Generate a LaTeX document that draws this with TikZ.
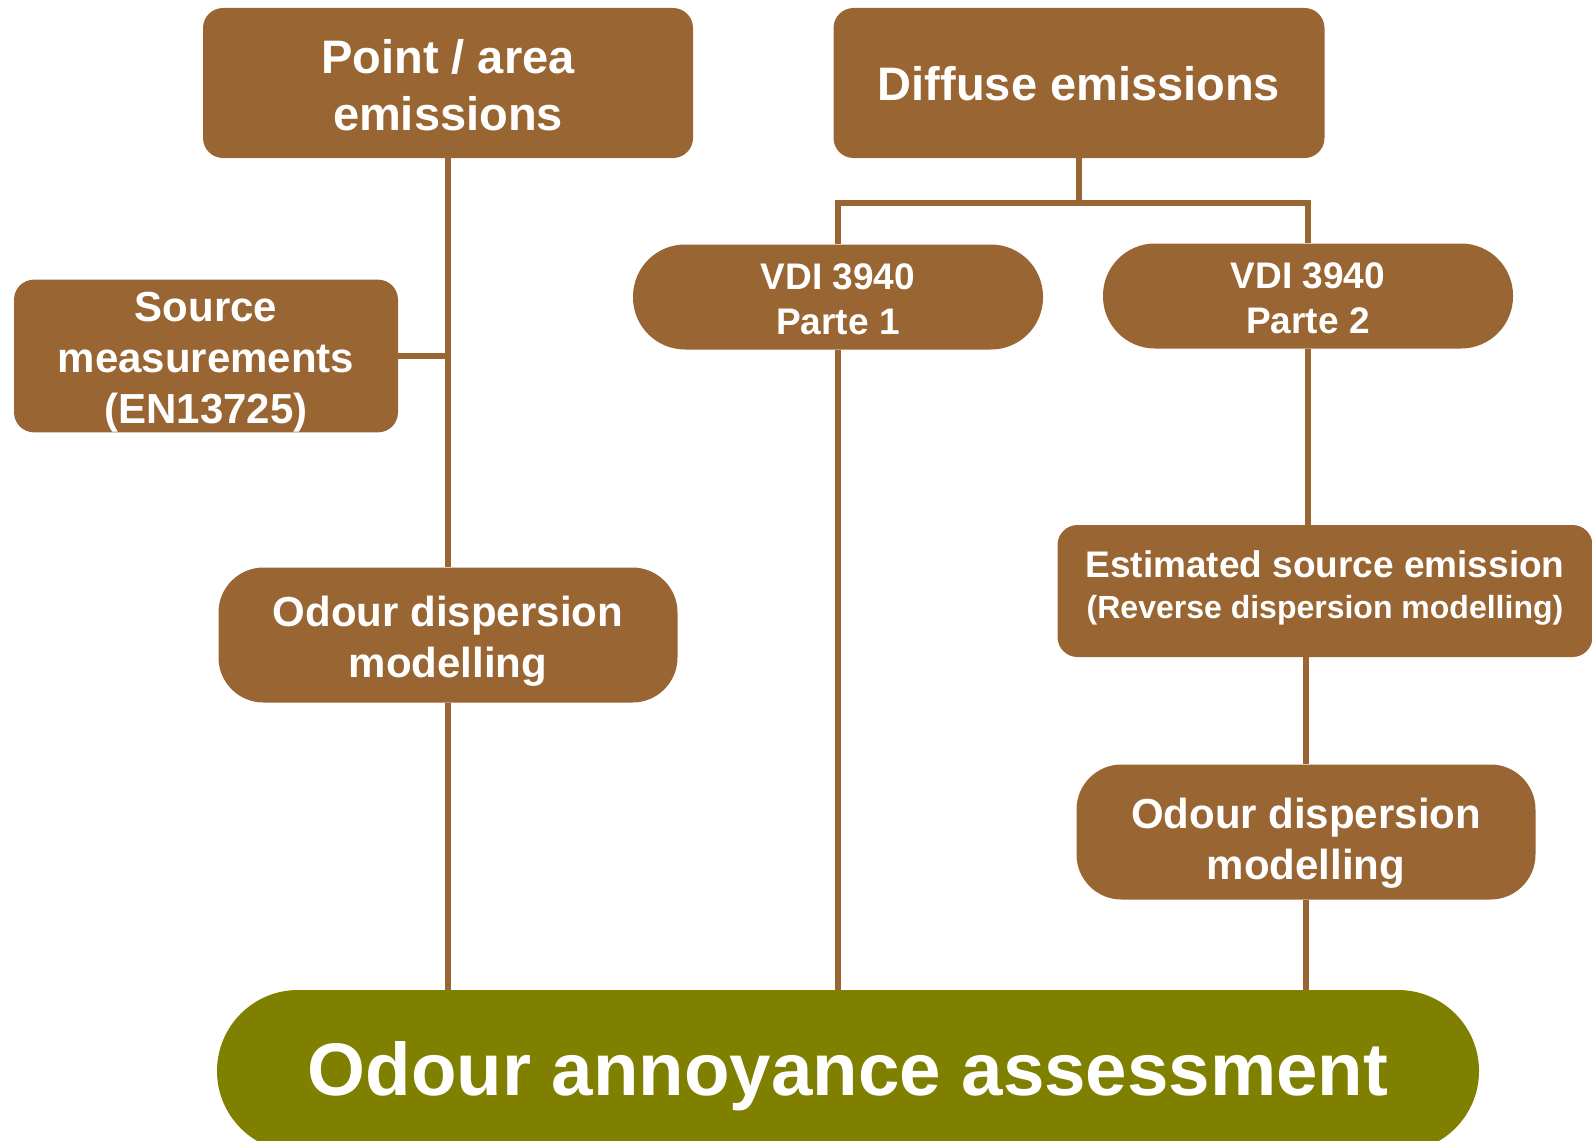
\documentclass[tikz,border=0pt]{standalone}
\usepackage{fontspec}
\setmainfont{Liberation Sans}
\usepackage{xcolor}
\usepackage{tikz}
\usetikzlibrary{calc}
\definecolor{boxbrown}{RGB}{153,102,51}
\definecolor{boxolive}{RGB}{128,128,0}
\tikzstyle{block} = [fill=boxbrown, text=white,
	align=center, inner sep=0pt,
	rounded corners=20pt]
\tikzstyle{pill} = [block, rounded corners=52pt,
	minimum width=410pt, minimum height=105pt,
	font=\bfseries\fontsize{37}{45}\selectfont]
\tikzstyle{model} = [block, rounded corners=45pt,
	minimum width=459pt, minimum height=135pt,
	font=\bfseries\fontsize{42}{51}\selectfont]
\tikzstyle{line} = [draw=boxbrown, line width=6pt]
% invisible struts to move a label inside its box
\newcommand{\tallstrut}[1]{\rule{0pt}{#1}}
\newcommand{\deepstrut}[1]{\rule[-#1]{0pt}{#1}}

\begin{document}
\begin{tikzpicture}[x=1pt, y=-1pt]
			\useasboundingbox (0,0) rectangle (1592,1140);
			
			\node (pa) [block, minimum width=490pt, minimum height=150pt,
				font=\bfseries\fontsize{47}{57}\selectfont] at (448,83) {\tallstrut{38pt}Point / area\\emissions};
			\node (diff) [block, minimum width=491pt, minimum height=150pt,
				font=\bfseries\fontsize{47}{57}\selectfont] at (1079,83) {\tallstrut{36pt}Diffuse emissions};
			\node (src) [block, minimum width=384pt, minimum height=152pt,
				font=\bfseries\fontsize{42}{51}\selectfont] at (206,356) {\tallstrut{42pt}Source\\measurements\\(EN13725)};
			
			\node (vdi1) [pill] at (838,297) {\tallstrut{31pt}VDI 3940\\Parte 1};
			\node (vdi2) [pill] at (1308,296) {\tallstrut{31pt}VDI 3940\\Parte 2};
			
			\node (odl) [model] at (448,635) {\tallstrut{43pt}Odour dispersion\\modelling};
			\node (est) [block, minimum width=535pt, minimum height=132pt,
				font=\bfseries\fontsize{37}{41}\selectfont] at (1325,591)
				{Estimated source emission\\{\fontsize{32}{41}\selectfont(Reverse dispersion modelling)\deepstrut{13pt}}};
			\node (odr) [model] at (1306,832) {\tallstrut{53pt}Odour dispersion\\modelling};
			
			\node (ass) [fill=boxolive, text=white, inner sep=0pt, rounded corners=81pt,
				minimum width=1262pt, minimum height=162pt,
				font=\bfseries\fontsize{74.5}{89}\selectfont] at (848,1071) {\tallstrut{65pt}Odour annoyance assessment};
			
			% point / area branch
			\draw [line] (pa) -- (odl);
			\draw [line] (src.east) -- (src.east -| pa.south);
			\draw [line] (odl) -- (odl |- ass.north);
			
			% diffuse branch
			\coordinate (split) at ($ (diff.south) + (0,45) $);
			\draw [line] (diff) -- (split);
			\draw [line] (vdi1.north) |- (split) -| (vdi2.north);
			\draw [line] (vdi1) -- (vdi1 |- ass.north);
			\draw [line] (vdi2.south) -- (vdi2.south |- est.north);
			\draw [line] (odr.north |- est.south) -- (odr.north);
			\draw [line] (odr) -- (odr |- ass.north);
		\end{tikzpicture}
\end{document}
